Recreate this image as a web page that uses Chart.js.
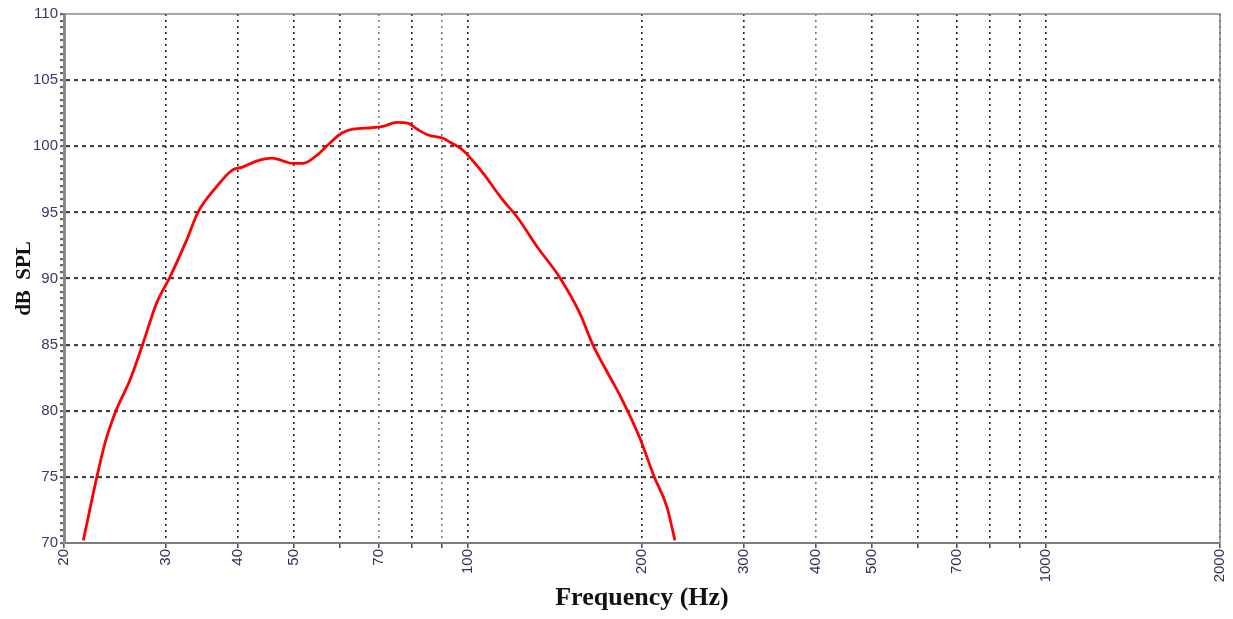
<!DOCTYPE html>
<html>
<head>
<meta charset="utf-8">
<script src="https://cdn.jsdelivr.net/npm/chart.js@4.4.1/dist/chart.umd.min.js"></script>
<style>
  html, body { margin: 0; padding: 0; background: #fff; }
  #wrap { width: 1233px; height: 619px; position: relative; }
</style>
</head>
<body>
<div id="wrap"><canvas id="c" width="1233" height="619"></canvas></div>
<script>
// Frequency (Hz) and SPL (dB)
const freqHz = [21.6, 22.8, 23.6, 24.6, 26.0, 27.4, 28.9, 30.5, 32.6, 34.1, 36.5, 39.1, 40.6, 43.2, 45.8, 49.8, 51.8, 54.7, 57.7, 60.5, 63.2, 68.2, 71.2, 75.3, 78.7, 81.6, 85.3, 90.5, 93.1, 98, 106, 115, 121.6, 131.7, 144, 156, 164, 176, 184, 198, 210, 221, 228];
const splDb  = [70.2, 75.0, 77.7, 80.0, 82.3, 85.1, 88.1, 90.1, 92.9, 95.0, 96.8, 98.2, 98.4, 98.9, 99.1, 98.7, 98.7, 99.3, 100.25, 101.0, 101.3, 101.4, 101.5, 101.8, 101.75, 101.3, 100.85, 100.6, 100.3, 99.7, 98.0, 95.9, 94.65, 92.4, 90.1, 87.4, 85.1, 82.55, 81.0, 78.0, 75.0, 72.7, 70.2];

// Axis ticks
const xTickValues = [20, 30, 40, 50, 60, 70, 80, 90, 100, 200, 300, 400, 500, 600, 700, 800, 900, 1000, 2000];
const xTickLabels = ['20', '30', '40', '50', '', '70', '', '', '100', '200', '300', '400', '500', '', '700', '', '', '1000', '2000'];
const xLightGrid = [70, 90, 400];
const yMin = 70, yMax = 110, yMajorStep = 5, yMinorStep = 0.5;

const frame = {
  id: 'frame',
  afterDraw(chart) {
    const {ctx, chartArea: a} = chart;
    ctx.save();
    ctx.strokeStyle = '#8a8a8a';
    ctx.lineWidth = 1.5;
    ctx.beginPath();
    ctx.moveTo(a.left, a.top); ctx.lineTo(a.right, a.top); ctx.lineTo(a.right, a.bottom);
    ctx.stroke();
    ctx.restore();
  }
};

new Chart(document.getElementById('c'), {
  type: 'scatter',
  data: {
    datasets: [{
      data: freqHz.map((f, i) => ({x: f, y: splDb[i]})),
      showLine: true,
      borderColor: '#ff0000',
      borderWidth: 2.8,
      pointRadius: 0,
      cubicInterpolationMode: 'monotone',
      fill: false
    }]
  },
  options: {
    responsive: false,
    animation: false,
    devicePixelRatio: 1,
    layout: { padding: { top: 14, right: 13, left: 0, bottom: 0 } },
    plugins: { legend: { display: false }, tooltip: { enabled: false } },
    scales: {
      x: {
        type: 'logarithmic',
        min: 20, max: 2000,
        afterBuildTicks(s) { s.ticks = xTickValues.map(v => ({value: v})); },
        afterFit(s) { s.height = 76; s.paddingLeft = 0; s.paddingRight = 0; },
        ticks: {
          autoSkip: false, maxRotation: 90, minRotation: 90,
          color: '#3c2a55',
          font: { family: 'Liberation Sans, Arial', size: 15 },
          padding: 1,
          callback: (v, i) => xTickLabels[i]
        },
        grid: {
          color: (c) => (c.tick && xLightGrid.includes(c.tick.value) ? '#777' : '#222'),
          lineWidth: 1.6,
          tickLength: 5,
          tickColor: '#555',
          tickBorderDash: []
        },
        border: { color: '#7a7a7a', width: 2, dash: [2, 4] },
        title: {
          display: true, text: 'Frequency (Hz)', color: '#111',
          font: { family: 'Liberation Serif, Times New Roman', size: 26, weight: 'bold' },
          padding: { top: 0, bottom: 5 }
        }
      },
      y: {
        min: yMin, max: yMax,
        afterBuildTicks(s) {
          const t = [];
          for (let v = yMin; v <= yMax + 1e-9; v += yMinorStep) t.push({value: Math.round(v * 10) / 10});
          s.ticks = t;
        },
        afterFit(s) { s.width = 64; s.paddingTop = 0; s.paddingBottom = 0; },
        ticks: {
          autoSkip: false,
          color: '#4a2f66',
          font: { family: 'Liberation Sans, Arial', size: 15 },
          padding: 2,
          callback: (v) => (v % yMajorStep === 0 ? String(v) : '')
        },
        grid: {
          color: (c) => (c.tick && c.tick.value % yMajorStep === 0 && c.tick.value !== yMin && c.tick.value !== yMax ? '#444' : 'rgba(0,0,0,0)'),
          lineWidth: 2.2,
          tickLength: 4,
          tickColor: '#666',
          tickBorderDash: []
        },
        border: { color: '#8a8a8a', width: 3, dash: [4, 4] },
        title: {
          display: true, text: 'dB  SPL', color: '#111',
          font: { family: 'Liberation Serif, Times New Roman', size: 21, weight: 'bold' },
          padding: { top: 12, bottom: 0 }
        }
      }
    }
  },
  plugins: [frame]
});
</script>
</body>
</html>
